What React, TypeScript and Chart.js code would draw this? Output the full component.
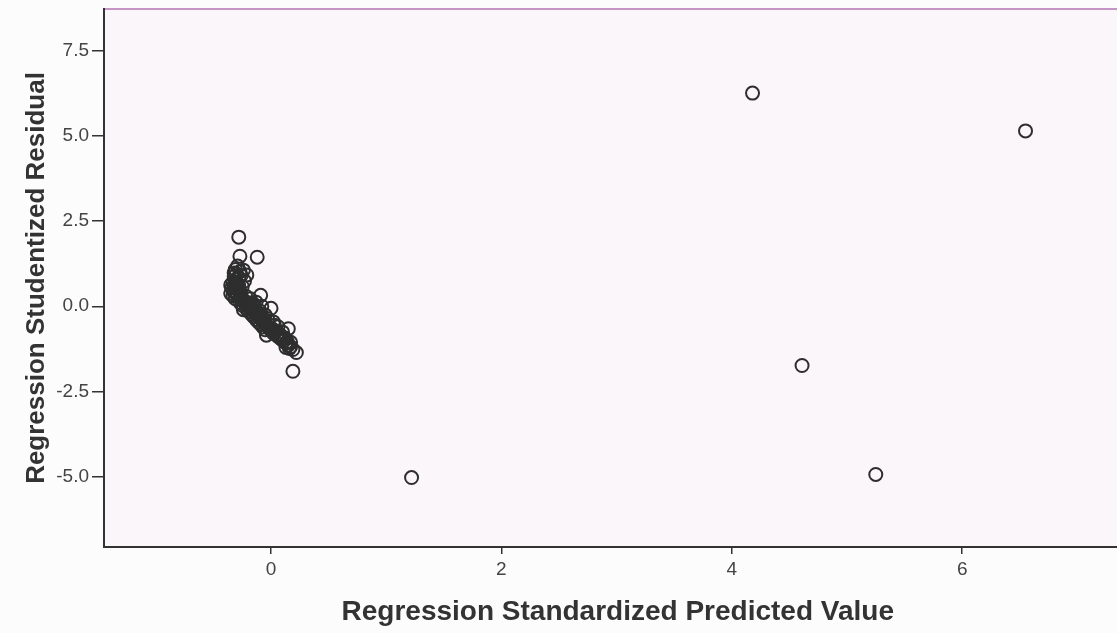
import React, { useEffect, useRef } from 'react';
import Chart from 'chart.js/auto';

// Regression Standardized Predicted Value (x) / Studentized Residual (y)
const predictedValues = [
    -0.28, -0.27, -0.12, -0.09, 0.19, -0.29, -0.31, -0.27, -0.30, -0.32,
    -0.28, -0.31, -0.33, -0.29, -0.32, -0.34, -0.30, -0.33, -0.31, -0.35,
    -0.27, -0.25, -0.23, -0.21, -0.24, -0.33, -0.29, -0.27, -0.31, -0.25,
    -0.27, -0.23, -0.22, -0.20, -0.25, -0.18, -0.21, -0.16, -0.19, -0.14,
    -0.17, -0.12, -0.15, -0.10, -0.13, -0.08, -0.11, -0.06, -0.09, -0.04,
    -0.07, -0.02, -0.05, 0.00, -0.04, 0.02, 0.05, 0.07, 0.09, 0.11,
    0.13, 0.15, 0.17, 0.13, 0.19, 0.22, 0.06, 0.10, 0.15, 0.12,
    0.17, -0.15, -0.10, -0.05, -0.13, -0.08, 0.00, -0.03, 0.02, -0.18,
    -0.35, -0.26, -0.28, -0.22, -0.24, -0.09, -0.30, -0.28, -0.26, -0.32,
    -0.29, -0.24, -0.20, -0.17, -0.14, -0.11, -0.07, -0.03, 0.01, 0.04,
    0.08, 0.11, 0.14, 0.16, -0.19, -0.15, -0.12, -0.06, 0.03, 0.09,
    1.22, 4.18, 6.55, 4.61, 5.25,
];
const studentizedResiduals = [
    2.03, 1.47, 1.44, 0.32, -1.91, 1.18, 1.08, 1.02, 0.95, 0.88,
    0.84, 0.78, 0.71, 0.67, 0.60, 0.54, 0.52, 0.46, 0.41, 0.38,
    0.44, 0.58, 0.74, 0.92, 1.06, 0.31, 0.34, 0.26, 0.22, 0.19,
    0.11, 0.13, 0.05, 0.00, 0.03, -0.05, -0.09, -0.11, -0.16, -0.19,
    -0.23, -0.26, -0.31, -0.33, -0.39, -0.41, -0.46, -0.49, -0.53, -0.56,
    -0.61, -0.63, -0.69, -0.71, -0.85, -0.79, -0.86, -0.91, -0.97, -1.02,
    -1.08, -1.14, -1.19, -1.21, -1.27, -1.36, -0.60, -0.76, -0.66, -0.93,
    -1.06, 0.06, -0.13, -0.26, 0.12, 0.00, -0.06, -0.36, -0.46, 0.22,
    0.62, 0.90, 0.60, 0.30, -0.10, -0.22, 0.70, 0.50, 0.36, 0.98,
    0.28, 0.16, 0.08, -0.02, -0.14, -0.28, -0.44, -0.58, -0.66, -0.74,
    -0.84, -0.95, -1.04, -1.24, 0.10, -0.02, -0.18, -0.40, -0.56, -0.88,
    -5.03, 6.26, 5.15, -1.74, -4.94,
];

const xTicks = [0, 2, 4, 6];
const yTicks = [-5.0, -2.5, 0.0, 2.5, 5.0, 7.5];

const axisColor = '#333333';
const fontFamily = '"Liberation Sans", Arial, sans-serif';

// fills the plot area and draws its pink top border
const plotBackground = {
    id: 'plotBackground',
    beforeDraw(chart: Chart) {
        const { ctx, chartArea } = chart;
        ctx.save();
        ctx.fillStyle = '#faf6fa';
        ctx.fillRect(chartArea.left, chartArea.top, chartArea.right - chartArea.left, chartArea.bottom - chartArea.top);
        ctx.strokeStyle = '#c596c5';
        ctx.lineWidth = 2;
        ctx.beginPath();
        ctx.moveTo(chartArea.left, chartArea.top);
        ctx.lineTo(chartArea.right, chartArea.top);
        ctx.stroke();
        ctx.restore();
    },
};

const App: React.FC = () => {
    const canvasRef = useRef<HTMLCanvasElement>(null);

    useEffect(() => {
        document.body.style.margin = '0';
        if (!canvasRef.current) return;
        const ctx = canvasRef.current.getContext('2d');
        if (!ctx) return;

        const chart = new Chart(ctx, {
            type: 'scatter',
            data: {
                datasets: [{
                    data: predictedValues.map((x, i) => ({ x, y: studentizedResiduals[i] })),
                    pointRadius: 6.5,
                    pointBorderWidth: 2,
                    pointBorderColor: '#2e2e2e',
                    pointBackgroundColor: 'rgba(0,0,0,0)',
                }],
            },
            options: {
                animation: false,
                responsive: true,
                maintainAspectRatio: false,
                layout: { padding: { top: 9, right: 4, left: 0, bottom: 0 } },
                plugins: {
                    legend: { display: false },
                    tooltip: { enabled: false },
                },
                scales: {
                    x: {
                        type: 'linear',
                        min: -1.45,
                        max: 7.47,
                        afterBuildTicks: (scale) => { scale.ticks = xTicks.map(v => ({ value: v })); },
                        afterFit: (scale) => { scale.height = 86; scale.paddingLeft = 0; scale.paddingRight = 0; },
                        grid: { drawOnChartArea: false, drawTicks: true, tickLength: 7, tickColor: axisColor, lineWidth: 1.5 },
                        border: { color: axisColor, width: 2 },
                        ticks: {
                            color: '#444',
                            padding: 4,
                            font: { family: fontFamily, size: 19 },
                            callback: (v) => String(v),
                        },
                        title: {
                            display: true,
                            text: 'Regression Standardized Predicted Value',
                            color: axisColor,
                            font: { family: fontFamily, size: 28, weight: 'bold' },
                            padding: { top: 0, bottom: 4 },
                        },
                    },
                    y: {
                        type: 'linear',
                        min: -7.07,
                        max: 8.73,
                        afterBuildTicks: (scale) => { scale.ticks = yTicks.map(v => ({ value: v })); },
                        afterFit: (scale) => { scale.width = 104; scale.paddingTop = 0; scale.paddingBottom = 0; },
                        grid: { drawOnChartArea: false, drawTicks: true, tickLength: 12, tickColor: axisColor, lineWidth: 1.5 },
                        border: { color: axisColor, width: 2 },
                        ticks: {
                            color: '#444',
                            padding: 3,
                            font: { family: fontFamily, size: 19 },
                            callback: (v) => Number(v).toFixed(1),
                        },
                        title: {
                            display: true,
                            text: 'Regression Studentized Residual',
                            color: axisColor,
                            font: { family: fontFamily, size: 26, weight: 'bold' },
                            padding: { top: 21, bottom: 0 },
                        },
                    },
                },
            },
            plugins: [plotBackground],
        });

        return () => chart.destroy();
    }, []);

    return (
        <div style={{ position: 'fixed', left: 0, top: 0, width: 1117, height: 633, overflow: 'hidden', background: '#fcfcfc' }}>
            <div style={{ width: 1140, height: 633 }}>
                <canvas ref={canvasRef}></canvas>
            </div>
        </div>
    );
};

export default App;
